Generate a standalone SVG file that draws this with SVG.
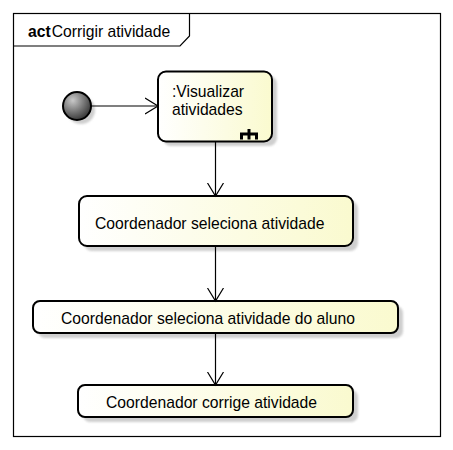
<svg xmlns="http://www.w3.org/2000/svg" width="453" height="450" viewBox="0 0 453 450">
<defs>
<linearGradient id="fillg" x1="0" y1="0" x2="1" y2="0">
<stop offset="0" stop-color="#ffffff"/>
<stop offset="1" stop-color="#fafacf"/>
</linearGradient>
<radialGradient id="initg" cx="0.35" cy="0.3" r="0.75">
<stop offset="0" stop-color="#c8c8c8"/>
<stop offset="1" stop-color="#333333"/>
</radialGradient>
<filter id="sh" x="-10%" y="-10%" width="130%" height="140%">
<feGaussianBlur stdDeviation="1.2"/>
</filter>
<marker id="arr" markerWidth="16" markerHeight="20" refX="13" refY="9" orient="auto" markerUnits="userSpaceOnUse">
<path d="M0,1 L13,9 L0,17" fill="none" stroke="#000" stroke-width="1.2"/>
</marker>
</defs>
<style>
.box{fill:url(#fillg);stroke:#000;stroke-width:2}
.shadow{fill:#cfcfcf;filter:url(#sh)}
.t{font-family:"Liberation Sans",Arial,sans-serif;font-size:15.7px;fill:#000}
.edge{stroke:#000;stroke-width:1.2;fill:none;marker-end:url(#arr)}
</style>
<rect x="0" y="0" width="453" height="450" fill="#fff"/>
<g id="frame">
<rect x="13.5" y="13.5" width="427" height="423" fill="none" stroke="#000" stroke-width="1.2"/>
<path d="M13.5,46 H180 L189.5,36 V13.5" fill="none" stroke="#000" stroke-width="1.2"/>
<text class="t" x="28" y="36.5"><tspan font-weight="bold">act</tspan><tspan dx="1">Corrigir atividade</tspan></text>
</g>
<g id="initial">
<circle cx="81" cy="110" r="14" class="shadow"/>
<circle cx="77" cy="106" r="14" fill="url(#initg)" stroke="#000" stroke-width="2"/>
</g>
<g id="visualizar">
<rect x="163" y="76" width="114" height="70" rx="8" class="shadow"/>
<rect x="158" y="71.5" width="114" height="70" rx="8" class="box"/>
<text class="t" x="172" y="97">:Visualizar</text>
<text class="t" x="172" y="115">atividades</text>
<path d="M241.5,139.5 V134 H256.5 V139.5 M249,129 V139.5" fill="none" stroke="#000" stroke-width="3"/>
</g>
<g id="seleciona">
<rect x="84" y="201" width="274" height="50" rx="8" class="shadow"/>
<rect x="79" y="196" width="274" height="50" rx="8" class="box"/>
<text class="t" x="95" y="229">Coordenador seleciona atividade</text>
</g>
<g id="seleciona-aluno">
<rect x="38" y="306" width="365" height="32" rx="7" class="shadow"/>
<rect x="33" y="301" width="365" height="32" rx="7" class="box"/>
<text class="t" x="61" y="324">Coordenador seleciona atividade do aluno</text>
</g>
<g id="corrige">
<rect x="83" y="390" width="275" height="32" rx="7" class="shadow"/>
<rect x="78" y="385" width="275" height="32" rx="7" class="box"/>
<text class="t" x="106" y="408">Coordenador corrige atividade</text>
</g>
<g id="connectors">
<line class="edge" x1="91" y1="106" x2="158" y2="106"/>
<line class="edge" x1="215.5" y1="142" x2="215.5" y2="196"/>
<line class="edge" x1="215.5" y1="247" x2="215.5" y2="301"/>
<line class="edge" x1="215.5" y1="334" x2="215.5" y2="385"/>
</g>
</svg>
